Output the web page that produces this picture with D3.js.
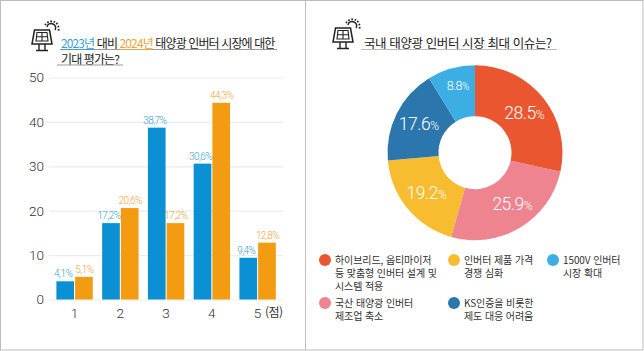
<!DOCTYPE html>
<html lang="ko">
<head>
<meta charset="UTF-8">
<title>태양광 인버터 시장</title>
<style>
    html, body { margin: 0; padding: 0; background: #fff; }
    svg { display: block; font-family: "Noto Sans CJK KR", "Noto Sans", sans-serif; font-weight: 400; }
    .grid line { stroke: #ececec; stroke-width: 1.2; }
    .grid path, .xaxis path, .xaxis line { display: none; }
    .tick text { fill: #333; font-size: 13.5px; font-family: Roboto, sans-serif; font-weight: 300; }
    .num { font-family: Roboto, sans-serif; font-weight: 300; }
</style>
</head>
<body>
<svg id="chart" width="644" height="351"></svg>
<script src="https://d3js.org/d3.v7.min.js"></script>
<script>
const scores = ["1", "2", "3", "4", "5"];
const series = ["2023", "2024"];
const values2023 = [4.1, 17.2, 38.7, 30.6, 9.4];
const values2024 = [5.1, 20.6, 17.2, 44.3, 12.8];
const yTicks = [0, 10, 20, 30, 40, 50];

const issues = [
    ["하이브리드, 옵티마이저", "등 맞춤형 인버터 설계 및", "시스템 적용"],
    ["국산 태양광 인버터", "제조업 축소"],
    ["인버터 제품 가격", "경쟁 심화"],
    ["KS인증을 비롯한", "제도 대응 어려움"],
    ["1500V 인버터", "시장 확대"]
];
const issueShares = [28.5, 25.9, 19.2, 17.6, 8.8];
const issueColors = ["#e95630", "#ee8490", "#f8bc30", "#2b77ad", "#3daee3"];

const svg = d3.select("#chart");

// frame
svg.append("rect").attr("x", 0.5).attr("y", 0.5).attr("width", 642.5).attr("height", 349.5)
    .attr("fill", "none").attr("stroke", "#bdbdbd");
svg.append("line").attr("x1", 305.5).attr("x2", 305.5).attr("y1", 0).attr("y2", 350)
    .attr("stroke", "#bdbdbd");

// little solar panel icon
function panelIcon(x, y) {
    const g = svg.append("g").attr("transform", `translate(${x},${y})`)
        .attr("fill", "none").attr("stroke", "#222");
    g.append("path").attr("stroke-width", 1.5)
        .attr("d", "M2.5,0H17.5L20,14H0Z");
    g.append("path").attr("stroke-width", 1.1)
        .attr("d", "M5,2.5H15L16,11H4ZM10,2.5V11M4.5,6.7H15.5");
    g.append("path").attr("stroke-width", 1.4)
        .attr("d", "M7,14V20M13,14V20M4,20.5H16");
    g.append("path").attr("stroke-width", 1.5)
        .attr("d", "M15,-3a4,4 0 0 1 6,-3a4,4 0 0 1 2,6");
    g.append("path").attr("stroke-width", 1.8).attr("stroke-dasharray", "1.6 1.6")
        .attr("d", "M13,-5a8,8 0 0 1 10,-3a8,8 0 0 1 3,10");
}
panelIcon(32, 30);
panelIcon(333, 28);

// left title
const title1 = svg.append("text").attr("x", 61).attr("y", 47.5).attr("font-size", 12)
    .attr("letter-spacing", -0.88).attr("fill", "#222");
title1.append("tspan").attr("fill", "#3c9fd6").text("2023년");
title1.append("tspan").text(" 대비 ");
title1.append("tspan").attr("fill", "#f0a33c").text("2024년");
title1.append("tspan").text(" 태양광 인버터 시장에 대한");
svg.append("text").attr("x", 61).attr("y", 63.5).attr("font-size", 12)
    .attr("letter-spacing", -0.88).attr("fill", "#222").text("기대 평가는?");
svg.append("line").attr("x1", 60).attr("x2", 277).attr("y1", 49.5).attr("y2", 49.5).attr("stroke", "#999");
svg.append("line").attr("x1", 61).attr("x2", 93).attr("y1", 49.5).attr("y2", 49.5).attr("stroke", "#3c9fd6");
svg.append("line").attr("x1", 120).attr("x2", 152).attr("y1", 49.5).attr("y2", 49.5).attr("stroke", "#f0a33c");
svg.append("line").attr("x1", 57).attr("x2", 123).attr("y1", 65).attr("y2", 65).attr("stroke", "#999");

// right title
svg.append("text").attr("x", 364).attr("y", 47.5).attr("font-size", 12.5)
    .attr("letter-spacing", -0.4).attr("fill", "#222")
    .text("국내 태양광 인버터 시장 최대 이슈는?");
svg.append("line").attr("x1", 361).attr("x2", 557).attr("y1", 49.5).attr("y2", 49.5).attr("stroke", "#bbb");

// bars
const x = d3.scaleBand().domain(scores).range([51.7, 280.5]);
const xInner = d3.scaleBand().domain(series).range([0, 36.4]).paddingInner(0.055);
const y = d3.scaleLinear().domain([0, 50]).range([299.5, 77.5]);
const pad = (x.bandwidth() - 36.4) / 2;

svg.append("g").attr("class", "grid")
    .attr("transform", "translate(49,0)")
    .call(d3.axisLeft(y).tickValues(yTicks).tickSize(-234).tickPadding(5));

svg.append("g").attr("class", "xaxis")
    .attr("transform", "translate(0,299.5)")
    .call(d3.axisBottom(x).tickSize(0).tickPadding(9));
svg.append("text").attr("x", 265).attr("y", 317).attr("font-size", 12).attr("letter-spacing", -0.5)
    .attr("fill", "#333").text("(점)");

function drawSeries(key, vals, color, labelColor, shift) {
    const g = svg.append("g");
    g.selectAll("rect").data(vals).enter().append("rect")
        .attr("x", (d, i) => x(scores[i]) + pad + xInner(key))
        .attr("width", xInner.bandwidth())
        .attr("y", d => y(d))
        .attr("height", d => y(0) - y(d))
        .attr("fill", color);
    g.selectAll("text").data(vals).enter().append("text")
        .attr("class", "num")
        .attr("x", (d, i) => x(scores[i]) + pad + xInner(key) + xInner.bandwidth() / 2 + shift)
        .attr("y", d => y(d) - 4)
        .attr("text-anchor", "middle")
        .attr("font-size", 10)
        .attr("letter-spacing", -0.55)
        .attr("fill", labelColor)
        .text(d => d.toFixed(1).replace(".", ",") + "%");
}
drawSeries("2023", values2023, "#0b90d3", "#3c9fd6", -2);
drawSeries("2024", values2024, "#f39c12", "#f0a33c", 0.5);

// donut
const pie = d3.pie().sort(null)(issueShares);
const arc = d3.arc().innerRadius(36.5).outerRadius(87.5);
const labelArc = d3.arc().innerRadius(63).outerRadius(63);
const labelNudge = [[0, -1], [5, -3], [0, 0], [0, -1], [0, -7]];
const donut = svg.append("g").attr("transform", "translate(475,152.7)");
donut.selectAll("path").data(pie).enter().append("path")
    .attr("d", arc)
    .attr("fill", (d, i) => issueColors[i]);
donut.selectAll("text").data(pie).enter().append("text")
    .attr("class", "num")
    .attr("transform", (d, i) => {
        const c = labelArc.centroid(d);
        return `translate(${c[0] + labelNudge[i][0]},${c[1] + labelNudge[i][1]})`;
    })
    .attr("text-anchor", "middle")
    .attr("dy", "0.36em")
    .attr("fill", "#fff")
    .attr("font-size", d => d.index === 4 ? 12.5 : 17.5)
    .attr("letter-spacing", -0.5)
    .each(function (d) {
        const t = d3.select(this);
        t.append("tspan").text(d.data.toFixed(1));
        t.append("tspan").attr("font-size", d.index === 4 ? 10 : 12).text("%");
    });

// legend, one text per entry with a tspan per line
const legendCols = [325, 325, 454, 454, 553];
const legendRows = [260, 303, 260, 303, 260];
const legend = svg.append("g");
issues.forEach((lines, i) => {
    legend.append("circle").attr("cx", legendCols[i]).attr("cy", legendRows[i]).attr("r", 6).attr("fill", issueColors[i]);
    const t = legend.append("text")
        .attr("font-size", 10)
        .attr("letter-spacing", -0.1)
        .attr("fill", "#333");
    lines.forEach((line, j) => {
        t.append("tspan")
            .attr("x", legendCols[i] + 10)
            .attr("y", legendRows[i] + 4 + j * 13)
            .text(line);
    });
});
</script>
</body>
</html>
